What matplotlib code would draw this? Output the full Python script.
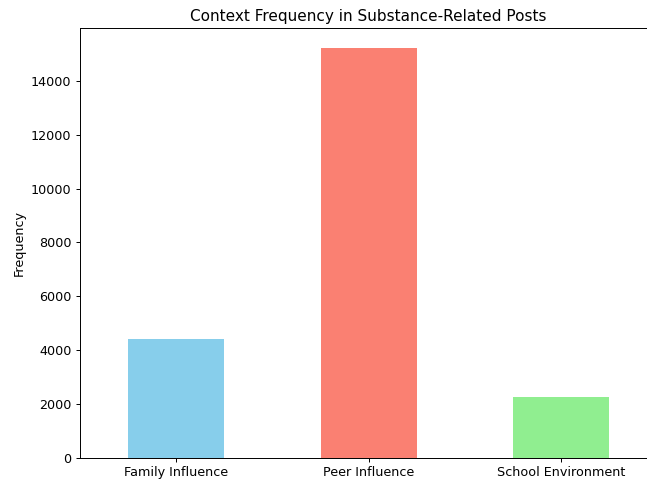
import matplotlib
matplotlib.use("Agg")
import matplotlib.pyplot as plt

categories = ["Family Influence", "Peer Influence", "School Environment"]
values = [4410, 15210, 2270]
colors = ["skyblue", "salmon", "lightgreen"]

dpi = 88
fig = plt.figure(figsize=(647 / dpi, 482 / dpi), dpi=dpi)
W, H = 647, 482
left, right = 80.0, 657.5
bottom, top = 457.7, 28.0
ax = fig.add_axes([left / W, (H - bottom) / H, (right - left) / W, (bottom - top) / H])

x = range(len(categories))
ax.bar(x, values, width=0.5, color=colors)
ax.set_xticks(list(x))
ax.set_xticklabels(categories, rotation=0)
ax.set_xlim(-0.5, 2.5)
ax.tick_params(labelsize=10.4)
ax.set_ylabel("Frequency", fontsize=10.4)
ax.set_title("Context Frequency in Substance-Related Posts", fontsize=12.5)

fig.savefig("out.png", dpi=dpi)
